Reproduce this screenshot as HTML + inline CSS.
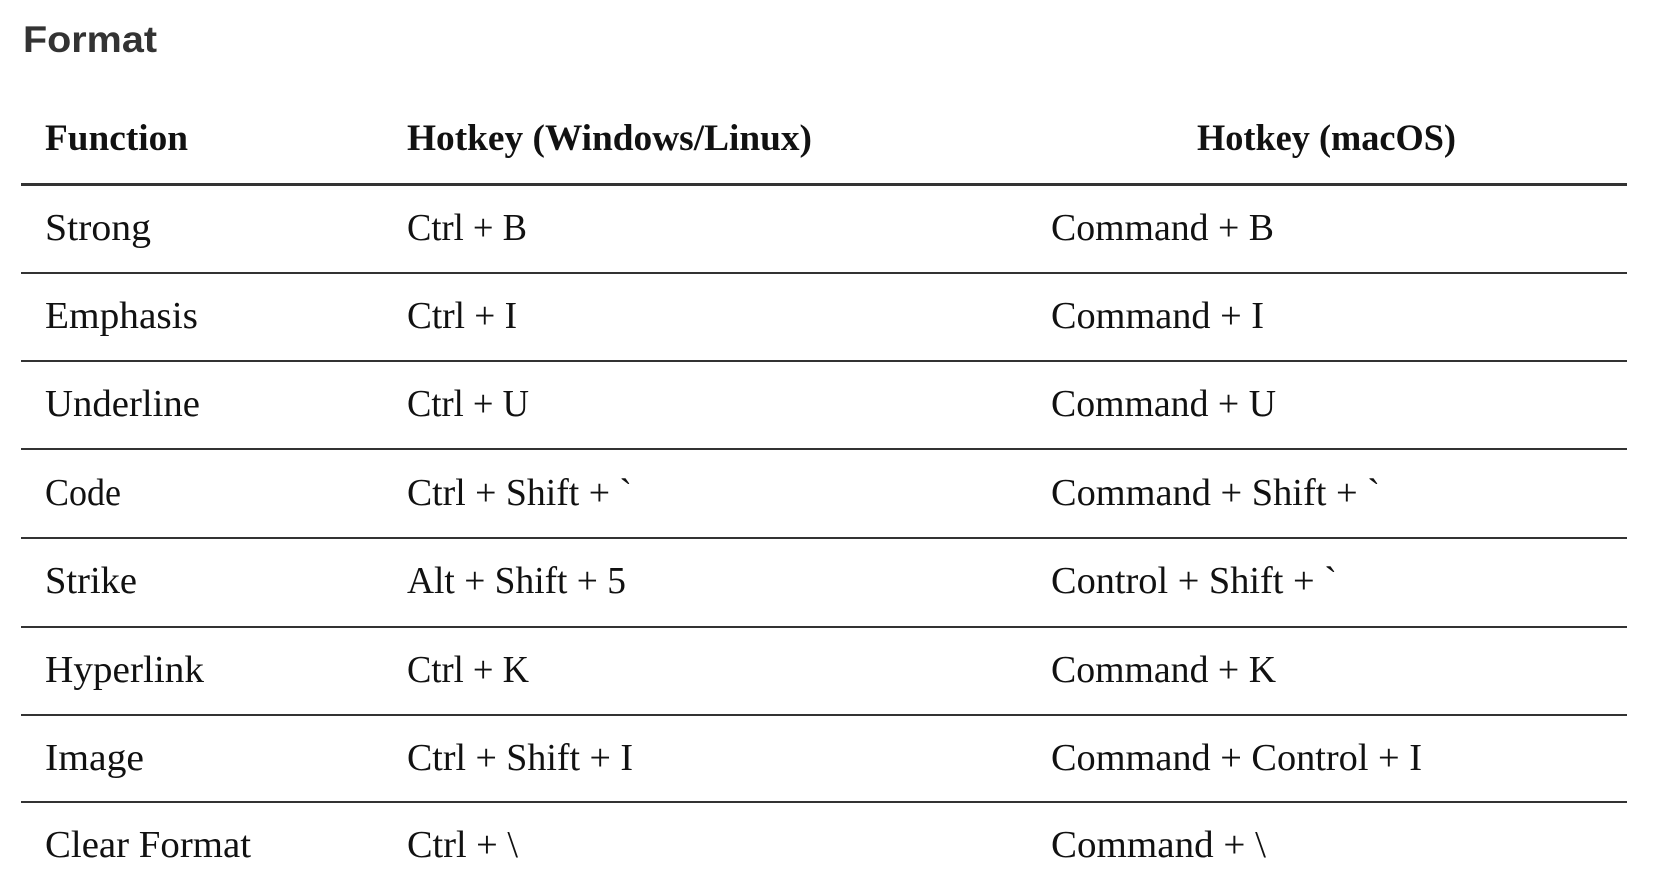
<!DOCTYPE html>
<html><head><meta charset="utf-8"><style>
html,body{margin:0;padding:0;background:#fff;width:1676px;height:890px;overflow:hidden}
svg{display:block}
.h{font-family:"Liberation Serif",serif;font-weight:bold;font-size:37px;fill:#111}
.b{font-family:"Liberation Serif",serif;font-size:38px;fill:#111}
</style></head><body>
<svg width="1676" height="890" xmlns="http://www.w3.org/2000/svg">
<text x="23" y="52" font-family="Liberation Sans, sans-serif" font-weight="bold" font-size="37" fill="#333" textLength="134" lengthAdjust="spacingAndGlyphs">Format</text>
<text class="h" x="45" y="150" textLength="143" lengthAdjust="spacingAndGlyphs">Function</text>
<text class="h" x="407" y="150" textLength="405" lengthAdjust="spacingAndGlyphs">Hotkey (Windows/Linux)</text>
<text class="h" x="1197" y="150" textLength="259" lengthAdjust="spacingAndGlyphs">Hotkey (macOS)</text>
<rect x="21" y="183" width="1606" height="3" fill="#333"/>
<g fill="#333">
<rect x="21" y="272" width="1606" height="2"/>
<rect x="21" y="360" width="1606" height="2"/>
<rect x="21" y="448" width="1606" height="2"/>
<rect x="21" y="537" width="1606" height="2"/>
<rect x="21" y="626" width="1606" height="2"/>
<rect x="21" y="714" width="1606" height="2"/>
<rect x="21" y="801" width="1606" height="2"/>
</g>
<g class="b">
<text class="b" x="45" y="240" textLength="106" lengthAdjust="spacingAndGlyphs">Strong</text>
<text class="b" x="407" y="240" textLength="120" lengthAdjust="spacingAndGlyphs">Ctrl + B</text>
<text class="b" x="1051" y="240" textLength="223" lengthAdjust="spacingAndGlyphs">Command + B</text>

<text class="b" x="45" y="328" textLength="153" lengthAdjust="spacingAndGlyphs">Emphasis</text>
<text class="b" x="407" y="328" textLength="110" lengthAdjust="spacingAndGlyphs">Ctrl + I</text>
<text class="b" x="1051" y="328" textLength="213" lengthAdjust="spacingAndGlyphs">Command + I</text>

<text class="b" x="45" y="416" textLength="155" lengthAdjust="spacingAndGlyphs">Underline</text>
<text class="b" x="407" y="416" textLength="122" lengthAdjust="spacingAndGlyphs">Ctrl + U</text>
<text class="b" x="1051" y="416" textLength="225" lengthAdjust="spacingAndGlyphs">Command + U</text>

<text class="b" x="45" y="505" textLength="76" lengthAdjust="spacingAndGlyphs">Code</text>
<text class="b" x="407" y="505" textLength="225" lengthAdjust="spacingAndGlyphs">Ctrl + Shift + `</text>
<text class="b" x="1051" y="505" textLength="329" lengthAdjust="spacingAndGlyphs">Command + Shift + `</text>

<text class="b" x="45" y="593" textLength="92" lengthAdjust="spacingAndGlyphs">Strike</text>
<text class="b" x="407" y="593" textLength="219" lengthAdjust="spacingAndGlyphs">Alt + Shift + 5</text>
<text class="b" x="1051" y="593" textLength="286" lengthAdjust="spacingAndGlyphs">Control + Shift + `</text>

<text class="b" x="45" y="682" textLength="159" lengthAdjust="spacingAndGlyphs">Hyperlink</text>
<text class="b" x="407" y="682" textLength="122" lengthAdjust="spacingAndGlyphs">Ctrl + K</text>
<text class="b" x="1051" y="682" textLength="225" lengthAdjust="spacingAndGlyphs">Command + K</text>

<text class="b" x="45" y="770" textLength="99" lengthAdjust="spacingAndGlyphs">Image</text>
<text class="b" x="407" y="770" textLength="226" lengthAdjust="spacingAndGlyphs">Ctrl + Shift + I</text>
<text class="b" x="1051" y="770" textLength="371" lengthAdjust="spacingAndGlyphs">Command + Control + I</text>

<text class="b" x="45" y="857" textLength="206" lengthAdjust="spacingAndGlyphs">Clear Format</text>
<text class="b" x="407" y="857" textLength="111" lengthAdjust="spacingAndGlyphs">Ctrl + \</text>
<text class="b" x="1051" y="857" textLength="215" lengthAdjust="spacingAndGlyphs">Command + \</text>
</g>
</svg>
</body></html>
